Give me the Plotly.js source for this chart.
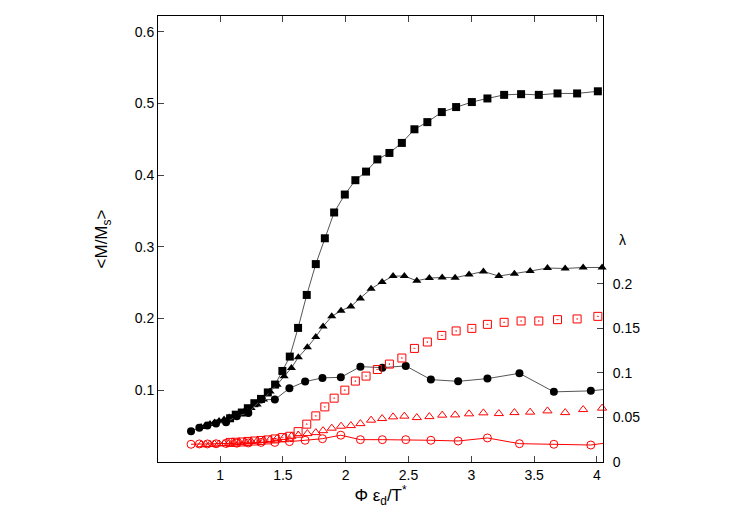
<!DOCTYPE html>
<html>
<head>
<meta charset="utf-8">
<script src="https://cdn.plot.ly/plotly-3.0.1.min.js"></script>
<style>
  body { margin: 0; background: #fff; }
  #graphs-div { width: 747px; height: 523px; }
</style>
</head>
<body>
<div id="graphs-div"></div>
<script>
// squares: <M/Ms> (black, left axis) and lambda (red, right axis)
const squareX = [1.080, 1.125, 1.173, 1.221, 1.273, 1.326, 1.380, 1.438, 1.496, 1.555, 1.621, 1.690, 1.762,
    1.834, 1.908, 1.993, 2.077, 2.162, 2.252, 2.348, 2.447, 2.547, 2.650, 2.765, 2.879, 3.004, 3.128,
    3.261, 3.396, 3.537, 3.686, 3.842, 4.007];
const squareM = [0.061, 0.066, 0.069, 0.075, 0.082, 0.088, 0.097, 0.108, 0.127, 0.147, 0.187, 0.233, 0.276,
    0.312, 0.348, 0.373, 0.393, 0.405, 0.422, 0.431, 0.445, 0.464, 0.474, 0.488, 0.495, 0.502, 0.507,
    0.512, 0.513, 0.512, 0.514, 0.514, 0.517];
const squareLambda = [0.0220, 0.0222, 0.0225, 0.0231, 0.0236, 0.0242, 0.0248, 0.0259, 0.0274, 0.0289, 0.0341,
    0.0425, 0.0518, 0.0619, 0.0717, 0.0807, 0.0909, 0.0965, 0.1039, 0.1100, 0.1168, 0.1276, 0.1348,
    0.1422, 0.1472, 0.1501, 0.1546, 0.1569, 0.1584, 0.1584, 0.1599, 0.1607, 0.1636];

// triangles
const triangleX = [0.849, 0.885, 0.920, 0.956, 0.992, 1.032, 1.072, 1.111, 1.155, 1.199, 1.247, 1.295, 1.346,
    1.398, 1.454, 1.510, 1.568, 1.623, 1.695, 1.762, 1.820, 1.889, 1.963, 2.041, 2.117, 2.202, 2.290,
    2.377, 2.467, 2.566, 2.666, 2.768, 2.871, 2.982, 3.096, 3.219, 3.343, 3.468, 3.606, 3.747, 3.890, 4.041];
const triangleM = [0.0487, 0.0508, 0.0529, 0.0550, 0.0571, 0.0592, 0.0620, 0.0648, 0.0682, 0.0717, 0.0752,
    0.0801, 0.0870, 0.0982, 0.1079, 0.1195, 0.1312, 0.1460, 0.1599, 0.1744, 0.1891, 0.2031, 0.2110,
    0.2170, 0.2281, 0.2416, 0.2510, 0.2593, 0.2593, 0.2528, 0.2565, 0.2574, 0.2570, 0.2616, 0.2657,
    0.2593, 0.2625, 0.2663, 0.2705, 0.2699, 0.2713, 0.2713];
const triangleLambda = [0.0194, 0.0196, 0.0198, 0.0200, 0.0203, 0.0207, 0.0211, 0.0214, 0.0220, 0.0225, 0.0231,
    0.0236, 0.0244, 0.0253, 0.0265, 0.0276, 0.0289, 0.0301, 0.0319, 0.0330, 0.0352, 0.0380, 0.0402,
    0.0409, 0.0431, 0.0470, 0.0488, 0.0507, 0.0515, 0.0499, 0.0510, 0.0526, 0.0529, 0.0541, 0.0552,
    0.0544, 0.0555, 0.0560, 0.0574, 0.0555, 0.0589, 0.0605];

// circles
const circleX = [0.769, 0.835, 0.899, 0.968, 1.048, 1.133, 1.225, 1.326, 1.436, 1.552, 1.677, 1.815, 1.961,
    2.117, 2.292, 2.478, 2.678, 2.895, 3.128, 3.383, 3.657, 3.951, 4.264];
const circleM = [0.0429, 0.0476, 0.0508, 0.0536, 0.0554, 0.0638, 0.0685, 0.0870, 0.0870, 0.1028, 0.1121,
    0.1173, 0.1181, 0.1330, 0.1316, 0.1340, 0.1149, 0.1125, 0.1163, 0.1237, 0.0978, 0.0992, 0.105];
const circleLambda = [0.0199, 0.0203, 0.0203, 0.0205, 0.0208, 0.0211, 0.0214, 0.0220, 0.0220, 0.0229, 0.0244,
    0.0262, 0.0301, 0.0251, 0.0251, 0.0251, 0.0244, 0.0236, 0.0270, 0.0206, 0.0199, 0.0191, 0.025];

// tick labels
const xTicks = [1, 1.5, 2, 2.5, 3, 3.5, 4];
const yTicks = [0.1, 0.2, 0.3, 0.4, 0.5, 0.6];
const y2Ticks = [0, 0.05, 0.1, 0.15, 0.2];
const y2TickText = ['0', '0.05', '0.1', '0.15', '0.2'];

function drawGraph() {
    const grayLine = { color: '#555', width: 1 };
    var data = [
        { x: squareX, y: squareM, mode: 'lines+markers', type: 'scatter', line: grayLine,
          marker: { symbol: 'square', size: 8, color: 'black' }, cliponaxis: false },
        { x: triangleX, y: triangleM, mode: 'lines+markers', type: 'scatter', line: grayLine,
          marker: { symbol: 'triangle-up', size: 8, color: 'black' }, cliponaxis: false },
        { x: circleX, y: circleM, mode: 'lines+markers', type: 'scatter', line: grayLine,
          marker: { symbol: 'circle', size: 8, color: 'black' } },
        { x: squareX, y: squareLambda, yaxis: 'y2', mode: 'markers', type: 'scatter',
          marker: { symbol: 'square-open-dot', size: 8, color: 'red', line: { width: 1 } }, cliponaxis: false },
        { x: triangleX, y: triangleLambda, yaxis: 'y2', mode: 'markers', type: 'scatter',
          marker: { symbol: 'triangle-up-open', size: 8, color: 'red', line: { width: 1 } }, cliponaxis: false },
        { x: circleX, y: circleLambda, yaxis: 'y2', mode: 'lines+markers', type: 'scatter',
          line: { color: 'red', width: 1 },
          marker: { symbol: 'circle-open', size: 8, color: 'red', line: { width: 1 } } }
    ];
    var layout = {
        width: 747, height: 523,
        margin: { l: 158, r: 144, t: 16, b: 61 },
        showlegend: false,
        paper_bgcolor: 'white', plot_bgcolor: 'white',
        font: { family: 'Liberation Sans, Arial, sans-serif', size: 14, color: 'black' },
        xaxis: {
            range: [0.506, 4.048], tickvals: xTicks, ticks: 'inside', ticklen: 6,
            showline: true, linecolor: 'black', linewidth: 1, mirror: 'ticks',
            showgrid: false, zeroline: false,
            title: { text: 'Φ ε<sub>d</sub>/T<sup>*</sup>', standoff: 6 }
        },
        yaxis: {
            range: [0, 0.622], tickvals: yTicks, ticks: 'inside', ticklen: 6,
            showline: true, linecolor: 'black', linewidth: 1, mirror: true,
            showgrid: false, zeroline: false,
            title: { text: '&lt;M/M<sub>s</sub>&gt;', standoff: 22 }
        },
        yaxis2: {
            overlaying: 'y', side: 'right',
            range: [0, 0.501], tickvals: y2Ticks, ticktext: y2TickText, ticks: 'inside', ticklen: 6,
            showline: true, linecolor: 'black', linewidth: 1,
            showgrid: false, zeroline: false, ticklabelstandoff: 6
        },
        annotations: [
            { text: 'λ', xref: 'paper', yref: 'paper', x: 1.056, y: 0.498,
              showarrow: false, font: { size: 14 } }
        ]
    };
    Plotly.newPlot('graphs-div', data, layout, { staticPlot: true });
}

drawGraph();
</script>
</body>
</html>
